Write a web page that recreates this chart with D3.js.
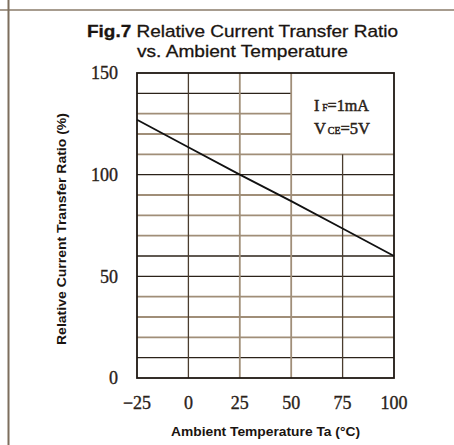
<!DOCTYPE html>
<html><head><meta charset="utf-8">
<script src="https://cdn.jsdelivr.net/npm/d3@7"></script>
<style>body{margin:0;background:#fff}svg{display:block}</style>
</head><body>
<script>
// Data
const tempTicks = [-25, 0, 25, 50, 75, 100];
const ctrTicks = [0, 50, 100, 150];
const gridY = [10,20,30,40,50,60,70,80,90,100,110,120,130,140];
const darkY = [10, 50, 60, 100, 140];
const darkX = [0, 75];
const curveTemp = [-25, 0, 25, 50, 75, 100];
const curveCTR  = [127, 113.5, 100, 87, 73.5, 60];
const titleLine1Bold = "Fig.7";
const titleLine1 = " Relative Current Transfer Ratio";
const titleLine2 = "vs. Ambient Temperature";
const xTitle = "Ambient Temperature Ta (°C)";
const yTitle = "Relative Current Transfer Ratio (%)";

const W = 454, H = 445;
const svg = d3.select("body").append("svg").attr("width", W).attr("height", H);
const x = d3.scaleLinear().domain([-25, 100]).range([137, 394]);
const y = d3.scaleLinear().domain([0, 150]).range([378, 73]);
const brown = "#a08e78", dark = "#2b2219";
const ink = "#1a1410";

// page frame
svg.append("line").attr("x1", 0).attr("x2", W).attr("y1", 10).attr("y2", 10).attr("stroke", "#8a7b6a").attr("stroke-width", 1.5);
svg.append("line").attr("x1", 8.5).attr("x2", 8.5).attr("y1", 0).attr("y2", H).attr("stroke", "#7d6e5d").attr("stroke-width", 2);

// grid (inset box region x 50..100, y 110..150 left blank)
const g = svg.append("g");
gridY.forEach(v => {
  const x2 = v > 110 ? x(50) : x(100);
  g.append("line").attr("x1", x(-25)).attr("x2", x2).attr("y1", y(v)).attr("y2", y(v))
    .attr("stroke", darkY.includes(v) ? dark : brown).attr("stroke-width", darkY.includes(v) ? 1.3 : 1.8);
});
[0, 25, 50, 75].forEach(v => {
  const y2 = v === 75 ? y(110) : y(150);
  g.append("line").attr("x1", x(v)).attr("x2", x(v)).attr("y1", y(0)).attr("y2", y2)
    .attr("stroke", darkX.includes(v) ? "#4a3c2e" : brown).attr("stroke-width", darkX.includes(v) ? 1.3 : 1.8);
});
g.append("rect").attr("x", x(-25)).attr("y", y(150)).attr("width", x(100) - x(-25)).attr("height", y(0) - y(150))
  .attr("fill", "none").attr("stroke", "#1e1812").attr("stroke-width", 1.8);

// curve
const line = d3.line().x((d, i) => x(curveTemp[i])).y(d => y(d));
svg.append("path").attr("d", line(curveCTR)).attr("fill", "none").attr("stroke", "#111").attr("stroke-width", 1.8);

// ticks
const serif = "'Liberation Serif', 'DejaVu Serif', serif";
const sans = "'Liberation Sans', Arial, sans-serif";
svg.append("g").selectAll("text").data(ctrTicks).join("text")
  .attr("x", 118).attr("y", d => y(d)).attr("dy", "0.35em").attr("text-anchor", "end")
  .attr("font-family", serif).attr("font-size", 18).attr("fill", "#2a2219")
  .attr("stroke", "#2a2219").attr("stroke-width", 0.35)
  .text(d => d);
svg.append("g").selectAll("text").data(tempTicks).join("text")
  .attr("x", d => x(d)).attr("y", 409).attr("text-anchor", "middle")
  .attr("font-family", serif).attr("font-size", 18).attr("fill", "#2a2219")
  .attr("stroke", "#2a2219").attr("stroke-width", 0.35)
  .text(d => d < 0 ? "\u2212" + Math.abs(d) : d);

// titles
const t = svg.append("text").attr("x", 87).attr("y", 37)
  .attr("font-family", sans).attr("font-size", 17).attr("fill", ink)
  .attr("stroke", ink).attr("stroke-width", 0.3)
  .attr("textLength", 311).attr("lengthAdjust", "spacingAndGlyphs");
t.append("tspan").attr("font-weight", "bold").text(titleLine1Bold);
t.append("tspan").text(titleLine1);
svg.append("text").attr("x", 137).attr("y", 57)
  .attr("font-family", sans).attr("font-size", 17).attr("fill", ink)
  .attr("stroke", ink).attr("stroke-width", 0.3)
  .attr("textLength", 211).attr("lengthAdjust", "spacingAndGlyphs").text(titleLine2);

svg.append("text").attr("x", 171).attr("y", 436)
  .attr("font-family", sans).attr("font-size", 12.5).attr("font-weight", "bold").attr("fill", ink)
  .attr("textLength", 189).attr("lengthAdjust", "spacingAndGlyphs").text(xTitle);
svg.append("text").attr("transform", "translate(66,345) rotate(-90)")
  .attr("font-family", sans).attr("font-size", 12.5).attr("font-weight", "bold").attr("fill", ink)
  .attr("textLength", 232).attr("lengthAdjust", "spacingAndGlyphs").text(yTitle);

// annotation
const a1 = svg.append("text").attr("x", 314).attr("y", 111).attr("font-family", serif).attr("font-size", 17.5).attr("fill", "#2a2219")
  .attr("stroke", "#2a2219").attr("stroke-width", 0.5)
  .attr("textLength", 55).attr("lengthAdjust", "spacingAndGlyphs");
a1.append("tspan").text("I");
a1.append("tspan").attr("font-size", 10.5).attr("dx", 3).text("F");
a1.append("tspan").text("=1mA");
const a2 = svg.append("text").attr("x", 314).attr("y", 134).attr("font-family", serif).attr("font-size", 17.5).attr("fill", "#2a2219")
  .attr("stroke", "#2a2219").attr("stroke-width", 0.5)
  .attr("textLength", 56).attr("lengthAdjust", "spacingAndGlyphs");
a2.append("tspan").text("V");
a2.append("tspan").attr("font-size", 10.5).attr("dx", 2).text("CE");
a2.append("tspan").text("=5V");
</script>
</body></html>
